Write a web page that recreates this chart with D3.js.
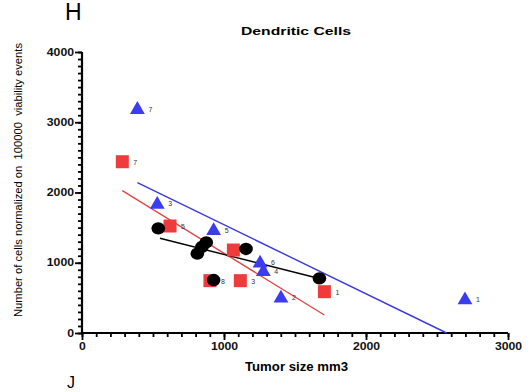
<!DOCTYPE html>
<html><head><meta charset="utf-8">
<script src="https://cdn.jsdelivr.net/npm/d3@7"></script>
<style>body{margin:0;background:#fff;} text{font-family:"Liberation Sans",Arial,sans-serif;}</style>
</head><body>
<svg id="c" width="532" height="392"></svg>
<script>
// Data
const blueX = [390, 530, 927, 1254, 1277, 1401, 2697];
const blueY = [3180, 1830, 1456, 992, 873, 494, 470];
const blueLabels = ["7", "3", "5", "6", "4", "2", "1"];
const redX = [284, 620, 1066, 901, 1115, 1707];
const redY = [2438, 1523, 1181, 745, 745, 588];
const redLabels = ["7", "5", "", "8", "3", "1"];
const blackX = [537, 812, 845, 875, 1155, 927, 1672];
const blackY = [1490, 1130, 1225, 1290, 1196, 754, 778];
const blueFitX = [390, 2568], blueFitY = [2140, 0];
const redFitX = [284, 1707], redFitY = [2026, 256];
const blackFitX = [549, 1670], blackFitY = [1348, 776];
const xTicks = [0, 1000, 2000, 3000];
const yTicks = [0, 1000, 2000, 3000, 4000];

const svg = d3.select("#c");
const x = d3.scaleLinear().domain([0, 3000]).range([82, 508]);
const y = d3.scaleLinear().domain([0, 4000]).range([333, 52]);

// Axes
const minorX = d3.range(0, 3001, 100), minorY = d3.range(0, 4001, 100);
const gx = svg.append("g").attr("transform", "translate(0,333)");
gx.call(d3.axisBottom(x).tickValues(minorX).tickSize(4).tickFormat(""));
gx.append("g").call(d3.axisBottom(x).tickValues(xTicks).tickSize(7).tickFormat(d3.format("d")));
const gy = svg.append("g").attr("transform", "translate(82,0)");
gy.call(d3.axisLeft(y).tickValues(minorY).tickSize(4).tickFormat(""));
gy.append("g").call(d3.axisLeft(y).tickValues(yTicks).tickSize(7).tickFormat(d3.format("d")));
svg.selectAll(".domain").attr("stroke", "#000").attr("stroke-width", 2.2);
svg.selectAll(".tick line").attr("stroke", "#000").attr("stroke-width", 1.8);
const tw = s => s.length * 6.8;
gx.selectAll(".tick text").attr("font-size", 10).attr("font-weight", "bold").attr("dy", "0.9em").attr("y", 8).attr("fill", "#111")
  .attr("textLength", d => tw(String(d))).attr("lengthAdjust", "spacingAndGlyphs");
gy.selectAll(".tick text").attr("font-size", 10).attr("font-weight", "bold").attr("x", -8).attr("fill", "#111")
  .attr("textLength", d => tw(String(d))).attr("lengthAdjust", "spacingAndGlyphs");
gx.select(".domain").attr("d", `M${x(0)},0H${x(3000)}`);
gy.select(".domain").attr("d", `M0,${y(0)}V${y(4000)}`);
gx.selectAll("g g .domain").remove(); gy.selectAll("g g .domain").remove();

// Fit lines
const fits = [[blueFitX, blueFitY, "#3a3ae0"], [redFitX, redFitY, "#e04545"], [blackFitX, blackFitY, "#000"]];
fits.forEach(([fx, fy, c]) => {
  svg.append("line").attr("x1", x(fx[0])).attr("y1", y(fy[0])).attr("x2", x(fx[1])).attr("y2", y(fy[1]))
    .attr("stroke", c).attr("stroke-width", 1.4);
});

// Red squares
redX.forEach((v, i) => {
  svg.append("rect").attr("x", x(v) - 6.5).attr("y", y(redY[i]) - 6.5).attr("width", 13).attr("height", 13).attr("fill", "#ef3b3b");
  if (redLabels[i]) svg.append("text").attr("x", x(v) + 11).attr("y", y(redY[i]) + 3).attr("font-size", 7).attr("fill", "#333").text(redLabels[i]);
});
// Blue triangles
const tri = d3.symbol().type(d3.symbolTriangle).size(95);
blueX.forEach((v, i) => {
  svg.append("path").attr("d", tri).attr("transform", `translate(${x(v)},${y(blueY[i])})`).attr("fill", "#3b3bf0");
  svg.append("text").attr("x", x(v) + 11).attr("y", y(blueY[i]) + 2).attr("font-size", 7).attr("fill", "#333").text(blueLabels[i]);
});
// Black circles
blackX.forEach((v, i) => {
  svg.append("ellipse").attr("cx", x(v)).attr("cy", y(blackY[i])).attr("rx", 6.8).attr("ry", 6.2).attr("fill", "#000");
});

// Texts
svg.append("text").attr("x", 65).attr("y", 20).attr("font-size", 23).text("H");
svg.append("text").attr("x", 296).attr("y", 35).attr("text-anchor", "middle").attr("font-size", 11.5).attr("font-weight", "bold")
  .attr("textLength", 110).attr("lengthAdjust", "spacingAndGlyphs").text("Dendritic Cells");
svg.append("text").attr("x", 296.5).attr("y", 371).attr("text-anchor", "middle").attr("font-size", 12).attr("font-weight", "bold")
  .attr("textLength", 103).attr("lengthAdjust", "spacingAndGlyphs").text("Tumor size mm3");
svg.append("text").attr("transform", "translate(22,180) rotate(-90)").attr("text-anchor", "middle").attr("font-size", 10.5)
  .style("white-space", "pre").attr("textLength", 274).attr("lengthAdjust", "spacingAndGlyphs")
  .text("Number of cells normalized on  100000  viability events");
svg.append("text").attr("x", 67).attr("y", 388).attr("font-size", 16).text("J");
</script>
</body></html>
